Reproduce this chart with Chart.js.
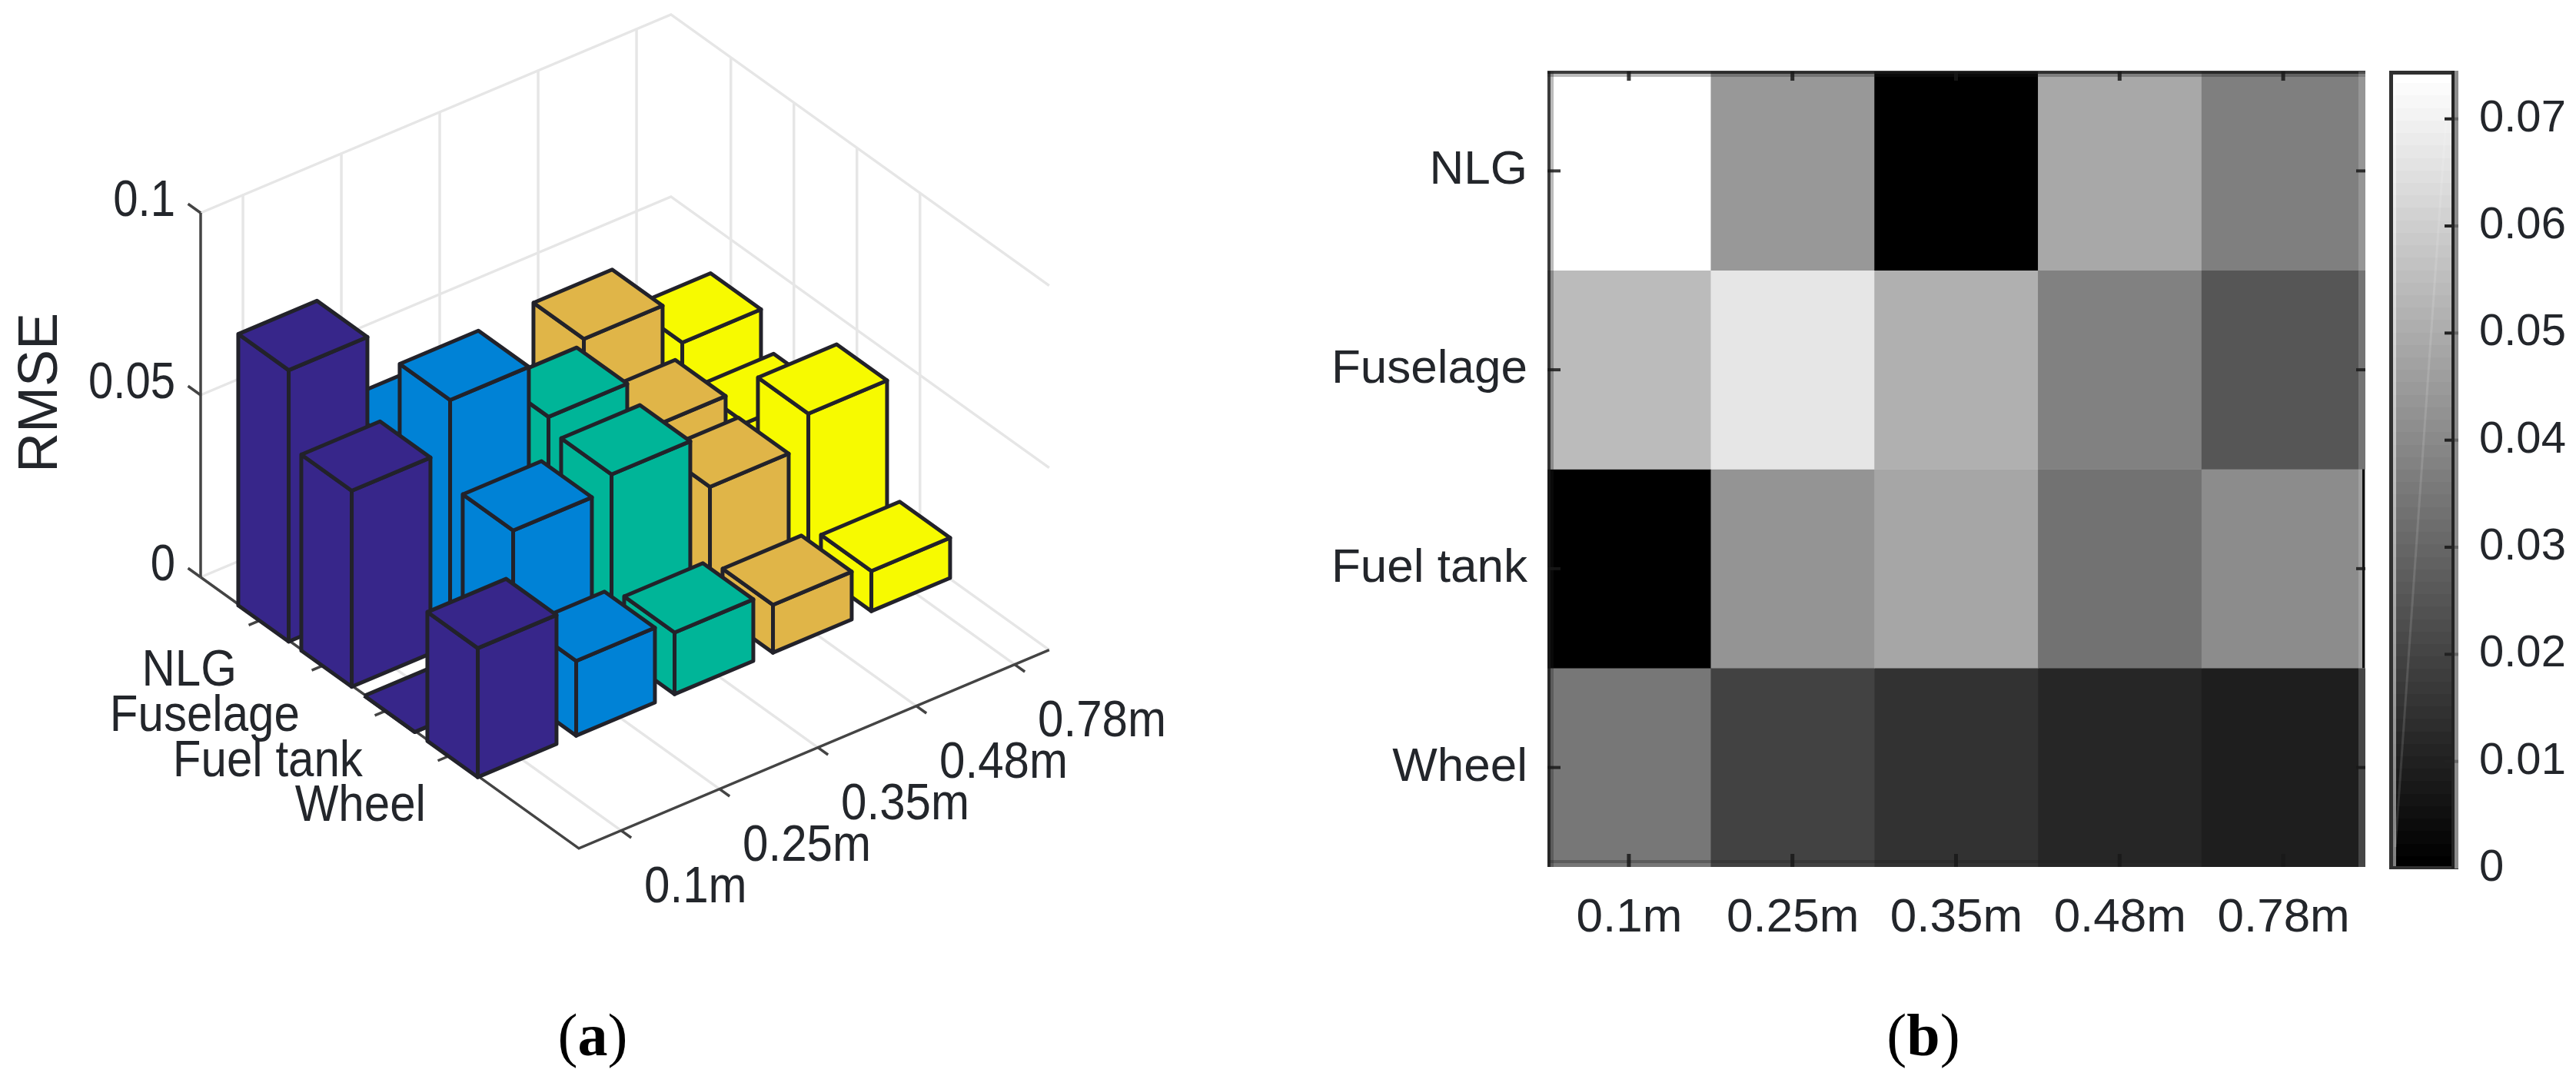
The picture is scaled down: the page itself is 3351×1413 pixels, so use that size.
<!DOCTYPE html>
<html>
<head>
<meta charset="utf-8">
<title>RMSE</title>
<script src="https://cdn.jsdelivr.net/npm/chart.js@4"></script>
<style>
  body { margin: 0; background: #fff; width: 3351px; height: 1413px; overflow: hidden; position: relative; }
  canvas { position: absolute; top: 0; filter: blur(0.7px); }
  .caption { position: absolute; top: 1302px; font: 78px/90px "Liberation Serif", serif; color: #000; transform: translateX(-50%); }
</style>
</head>
<body>
<canvas id="bars3d" width="1700" height="1413" style="left:0"></canvas>
<canvas id="heat" width="1400" height="1413" style="left:1700px"></canvas>
<canvas id="colorbar" width="251" height="1413" style="left:3100px"></canvas>
<div class="caption" style="left:771px">(<b>a</b>)</div>
<div class="caption" style="left:2502px">(<b>b</b>)</div>

<script>
const distances = ["0.1m", "0.25m", "0.35m", "0.48m", "0.78m"];
const parts = ["NLG", "Fuselage", "Fuel tank", "Wheel"];

// bar heights
const barsNLG = [0.0745, 0.0444, 0, 0.0489, 0.0365];
const barsFuselage = [0.0538, 0.0673, 0.0513, 0.0365, 0.0268];
const barsFuelTank = [0, 0.0439, 0.0479, 0.0331, 0.0418];
const barsWheel = [0.0354, 0.0205, 0.0169, 0.0131, 0.011];
const barRows = [barsNLG, barsFuselage, barsFuelTank, barsWheel];

// cell values
const cellsNLG = [0.0745, 0.0444, 0, 0.0491, 0.0371];
const cellsFuselage = [0.0546, 0.0672, 0.0514, 0.0377, 0.0251];
const cellsFuelTank = [0, 0.0432, 0.0485, 0.0333, 0.0409];
const cellsWheel = [0.0348, 0.0193, 0.0146, 0.0111, 0.0088];
const cellRows = [cellsNLG, cellsFuselage, cellsFuelTank, cellsWheel];

const zTicks = [0, 0.05, 0.1];
const colorbarTicks = [0, 0.01, 0.02, 0.03, 0.04, 0.05, 0.06, 0.07];
const colorbarMax = 0.0745;

const barColors = ["#37268a", "#0082d6", "#00b598", "#e0b548", "#f7fa00"];

const FONT = '"Liberation Sans", Arial, sans-serif';
const TEXT_COLOR = "#23262b";

// view of the 3d axes
const origin = { x: 261, y: 751 };
const rowStep = { x: 82, y: 58.8 };
const colStep = { x: 128, y: -54 };
const zScale = 4740;
const rowEnd = 6;
const colEnd = 4.78;
const rowStart = 0.95;
const colStart = 0.43;
const barHalf = 0.4;
const barDrop = 6; // boxes sit a little below the axes in the source

function project(row, col, value) {
  return {
    x: origin.x + row * rowStep.x + col * colStep.x,
    y: origin.y + row * rowStep.y + col * colStep.y - value * zScale,
  };
}

function boxPoint(row, col, value) {
  var p = project(row, col, value);
  return { x: p.x, y: p.y + barDrop };
}

function lineSet(points, color, width) {
  return {
    data: points,
    showLine: true,
    borderColor: color,
    borderWidth: width,
    pointRadius: 0,
    fill: false,
    tension: 0,
  };
}

function faceSet(points, color) {
  return {
    data: points.concat([points[0]]),
    showLine: true,
    borderColor: "#22222a",
    borderWidth: 5,
    borderJoinStyle: "round",
    backgroundColor: color,
    pointRadius: 0,
    fill: "shape",
    tension: 0,
  };
}

function build3dDatasets() {
  var sets = [];
  const gridColor = "#e6e6e6";
  const axisColor = "#444444";

  // walls and floor
  zTicks.forEach((z) => {
    sets.push(lineSet([project(0, 0, z), project(0, colEnd, z), project(rowEnd, colEnd, z)], gridColor, 3.5));
  });
  distances.forEach((d, c) => {
    var col = colStart + c;
    sets.push(lineSet([project(0, col, 0), project(0, col, 0.1)], gridColor, 3.5));
    sets.push(lineSet([project(0, col, 0), project(rowEnd, col, 0)], gridColor, 3.5));
  });
  parts.forEach((p, r) => {
    var row = rowStart + r;
    sets.push(lineSet([project(row, colEnd, 0), project(row, colEnd, 0.1)], gridColor, 3.5));
    sets.push(lineSet([project(row, 0, 0), project(row, colEnd, 0)], gridColor, 3.5));
  });

  // axes
  sets.push(lineSet([project(0, 0, 0.1), project(0, 0, 0)], axisColor, 3.5));
  sets.push(lineSet([project(0, 0, 0), project(rowEnd, 0, 0), project(rowEnd, colEnd, 0)], axisColor, 3.5));
  zTicks.forEach((z) => {
    sets.push(lineSet([project(0, 0, z), project(-0.2, 0, z)], axisColor, 3.5));
  });
  distances.forEach((d, c) => {
    sets.push(lineSet([project(rowEnd, colStart + c, 0), project(rowEnd + 0.16, colStart + c, 0)], axisColor, 3.5));
  });
  parts.forEach((p, r) => {
    sets.push(lineSet([project(rowStart + r, 0, 0), project(rowStart + r, -0.12, 0)], axisColor, 3.5));
  });

  // boxes, far ones first
  for (var c = distances.length - 1; c >= 0; c--) {
    for (var r = 0; r < parts.length; r++) {
      var u = rowStart + r;
      var v = colStart + c;
      var h = barRows[r][c];
      var color = barColors[c];
      sets.push(faceSet([boxPoint(u - barHalf, v - barHalf, 0), boxPoint(u + barHalf, v - barHalf, 0), boxPoint(u + barHalf, v - barHalf, h), boxPoint(u - barHalf, v - barHalf, h)], color));
      sets.push(faceSet([boxPoint(u + barHalf, v - barHalf, 0), boxPoint(u + barHalf, v + barHalf, 0), boxPoint(u + barHalf, v + barHalf, h), boxPoint(u + barHalf, v - barHalf, h)], color));
      sets.push(faceSet([boxPoint(u - barHalf, v - barHalf, h), boxPoint(u + barHalf, v - barHalf, h), boxPoint(u + barHalf, v + barHalf, h), boxPoint(u - barHalf, v + barHalf, h)], color));
    }
  }
  // chart.js paints the first dataset last
  return sets.reverse();
}

function putText(ctx, text, x, y, size, align, squeeze) {
  ctx.save();
  ctx.translate(x, y);
  ctx.scale(squeeze, 1);
  ctx.font = size + "px " + FONT;
  ctx.fillStyle = TEXT_COLOR;
  ctx.textAlign = align;
  ctx.textBaseline = "middle";
  ctx.fillText(text, 0, 0);
  ctx.restore();
}

const labels3d = {
  id: "labels3d",
  afterDraw(chart) {
    var ctx = chart.ctx;
    zTicks.forEach((z, i) => {
      var p = project(0, 0, z);
      putText(ctx, String(z), 228, p.y - 14, 66, "right", 0.88);
    });
    distances.forEach((d, c) => {
      var p = project(rowEnd, colStart + c, 0);
      putText(ctx, d, p.x + 30, p.y + 75, 66, "left", 0.91);
    });
    parts.forEach((name, r) => {
      var p = project(rowStart + r, 0, 0);
      putText(ctx, name, p.x - 31, p.y + 67, 66, "right", 0.91);
    });
    ctx.save();
    ctx.translate(54, 511);
    ctx.rotate(-Math.PI / 2);
    putText(ctx, "RMSE", 0, 0, 72, "center", 1);
    ctx.restore();
  },
};

new Chart(document.getElementById("bars3d"), {
  type: "scatter",
  data: { datasets: build3dDatasets() },
  plugins: [labels3d],
  options: {
    responsive: false,
    animation: false,
    devicePixelRatio: 1,
    layout: { padding: 0 },
    plugins: { legend: { display: false }, tooltip: { enabled: false } },
    scales: {
      x: { type: "linear", display: false, min: 0, max: 1700 },
      y: { type: "linear", display: false, min: 0, max: 1413, reverse: true },
    },
  },
});

function toGray(v) {
  var g = Math.round((v / colorbarMax) * 255);
  return "rgb(" + g + "," + g + "," + g + ")";
}

const heatFrame = {
  id: "heatFrame",
  afterDatasetsDraw(chart) {
    var ctx = chart.ctx;
    var a = chart.chartArea;
    ctx.save();
    ctx.fillStyle = "rgba(25,25,25,0.85)";
    ctx.fillRect(a.left, a.top, 4, a.bottom - a.top);
    ctx.fillRect(a.left, a.top - 1, a.right - a.left, 4);
    ctx.fillStyle = "rgba(30,30,30,0.3)";
    ctx.fillRect(a.left + 4, a.top, 4, a.bottom - a.top);
    ctx.fillRect(a.left, a.top + 3, a.right - a.left, 4);
    ctx.fillRect(a.left, a.bottom - 9, a.right - a.left, 4);
    ctx.fillStyle = "rgba(255,255,255,0.18)";
    ctx.fillRect(a.right - 9, a.top, 9, a.bottom - a.top);
    // the piece of right border that survived in the scan
    ctx.fillStyle = "#111";
    var ys = chart.scales.y;
    ctx.fillRect(a.right - 4, ys.getPixelForValue(2), 3, ys.getPixelForValue(3) - ys.getPixelForValue(2));
    // inward ticks
    ctx.fillStyle = "rgba(25,25,25,0.85)";
    chart.scales.x.ticks.forEach((t, i) => {
      var x = chart.scales.x.getPixelForTick(i);
      ctx.fillRect(x - 3, a.bottom - 17, 5, 17);
      ctx.fillRect(x - 3, a.top, 5, 12);
    });
    ys.ticks.forEach((t, i) => {
      var y = ys.getPixelForTick(i);
      ctx.fillRect(a.left, y - 2, 17, 4);
      ctx.fillRect(a.right - 12, y - 2, 12, 4);
    });
    ctx.restore();
  },
};

new Chart(document.getElementById("heat"), {
  type: "bar",
  data: {
    labels: distances,
    datasets: parts.map((name, r) => ({
      label: name,
      data: distances.map(() => 1),
      backgroundColor: cellRows[r].map(toGray),
      borderWidth: 0,
      barPercentage: 1,
      categoryPercentage: 1,
    })),
  },
  plugins: [heatFrame],
  options: {
    responsive: false,
    animation: false,
    devicePixelRatio: 1,
    layout: { padding: { top: 93, right: 1400 - 1377, left: 0, bottom: 0 } },
    plugins: { legend: { display: false }, tooltip: { enabled: false } },
    scales: {
      x: {
        stacked: true,
        grid: { display: false },
        border: { display: false },
        afterFit: (scale) => { scale.height = 1413 - 1128; },
        ticks: { font: { family: FONT, size: 62 }, color: TEXT_COLOR, padding: 22, maxRotation: 0, autoSkip: false },
      },
      y: {
        type: "linear",
        stacked: true,
        reverse: true,
        min: 0,
        max: parts.length,
        grid: { display: false },
        border: { display: false },
        afterBuildTicks: (scale) => { scale.ticks = parts.map((p, r) => ({ value: r + 0.5 })); },
        afterFit: (scale) => { scale.width = 313; },
        ticks: {
          font: { family: FONT, size: 62 },
          color: TEXT_COLOR,
          padding: 18,
          callback: (v) => parts[Math.floor(v)],
        },
      },
    },
  },
});

const colorbarFrame = {
  id: "colorbarFrame",
  afterDatasetsDraw(chart) {
    var ctx = chart.ctx;
    var a = chart.chartArea;
    var ys = chart.scales.y;
    ctx.save();
    // faint streak across the gradient, as in the source figure
    ctx.strokeStyle = "rgba(255,255,255,0.13)";
    ctx.lineWidth = 3;
    ctx.beginPath();
    ctx.moveTo(a.left + 8, ys.getPixelForValue(0.002));
    ctx.lineTo(a.right - 16, ys.getPixelForValue(0.07));
    ctx.stroke();
    ctx.fillStyle = "#303030";
    ctx.fillRect(a.left, a.top, 5, a.bottom - a.top);
    ctx.fillRect(a.left, a.top, a.right - a.left, 5);
    ctx.fillRect(a.left, a.bottom - 3, a.right - a.left, 4);
    ctx.fillStyle = "#222";
    ctx.fillRect(a.right - 9, a.top, 4, a.bottom - a.top);
    ctx.fillStyle = "#8c8c8c";
    ctx.fillRect(a.right - 5, a.top, 5, a.bottom - a.top);
    ctx.fillStyle = "rgba(255,255,255,0.5)";
    ctx.fillRect(a.left + 5, a.top + 5, 4, a.bottom - a.top - 8);
    colorbarTicks.forEach((v) => {
      if (v === 0) return;
      var y = ys.getPixelForValue(v);
      ctx.fillStyle = "#222";
      ctx.fillRect(a.right - 18, y - 2, 13, 4);
      ctx.fillStyle = "#666";
      ctx.fillRect(a.right - 5, y - 2, 5, 4);
    });
    ctx.restore();
  },
};

function grayLevels(context) {
  var area = context.chart.chartArea;
  if (!area) return "#808080";
  var grad = context.chart.ctx.createLinearGradient(0, area.bottom, 0, area.top);
  const levels = 64;
  for (var i = 0; i < levels; i++) {
    var g = Math.round((i / (levels - 1)) * 255);
    var c = "rgb(" + g + "," + g + "," + g + ")";
    grad.addColorStop(i / levels, c);
    grad.addColorStop((i + 1) / levels, c);
  }
  return grad;
}

new Chart(document.getElementById("colorbar"), {
  type: "bar",
  data: {
    labels: ["RMSE"],
    datasets: [{ data: [[0, colorbarMax]], backgroundColor: grayLevels, borderWidth: 0, barPercentage: 1, categoryPercentage: 1 }],
  },
  plugins: [colorbarFrame],
  options: {
    responsive: false,
    animation: false,
    devicePixelRatio: 1,
    layout: { padding: { top: 92, left: 8, right: 0, bottom: 283 } },
    plugins: { legend: { display: false }, tooltip: { enabled: false } },
    scales: {
      x: {
        display: false,
        afterFit: (scale) => { scale.height = 0; },
      },
      y: {
        position: "right",
        min: 0,
        max: colorbarMax,
        grid: { display: false },
        border: { display: false },
        afterBuildTicks: (scale) => { scale.ticks = colorbarTicks.map((v) => ({ value: v })); },
        afterFit: (scale) => { scale.width = 251 - 8 - 90; },
        ticks: {
          font: { family: FONT, size: 58 },
          color: TEXT_COLOR,
          padding: 19,
          callback: (v) => String(v),
        },
      },
    },
  },
});
</script>
</body>
</html>
